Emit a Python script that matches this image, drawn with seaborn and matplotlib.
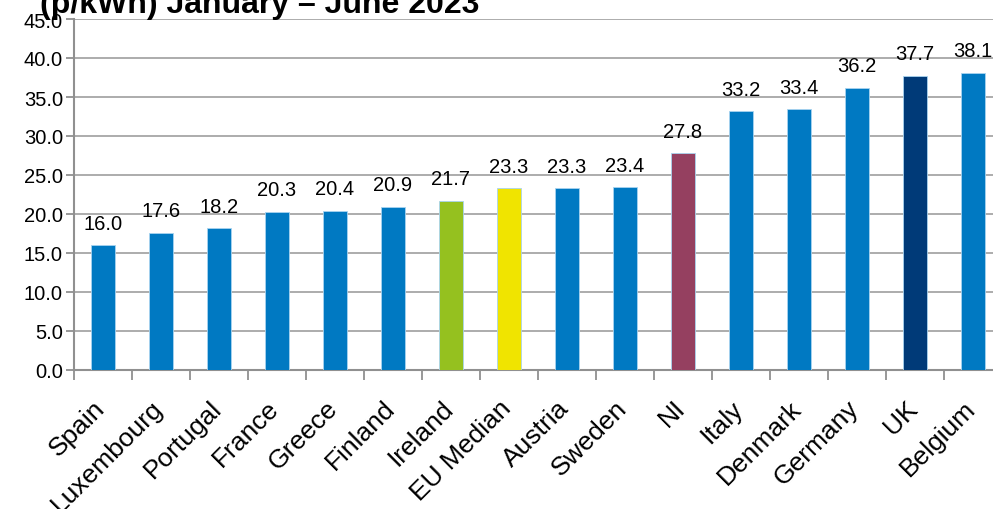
import matplotlib
matplotlib.use("Agg")
import matplotlib.pyplot as plt
import matplotlib.transforms as mtransforms
import seaborn as sns
import pandas as pd
import numpy as np
from matplotlib.ticker import FixedLocator

categories = ["Spain", "Luxembourg", "Portugal", "France", "Greece", "Finland",
              "Ireland", "EU Median", "Austria", "Sweden", "NI", "Italy",
              "Denmark", "Germany", "UK", "Belgium"]
values = [16.0, 17.6, 18.2, 20.3, 20.4, 20.9, 21.7, 23.3, 23.3, 23.4, 27.8,
          33.2, 33.4, 36.2, 37.7, 38.1]
colors = ["#0079C2"] * 6 + ["#95C11F", "#F0E400", "#0079C2", "#0079C2",
                            "#954060", "#0079C2", "#0079C2", "#0079C2",
                            "#003A78", "#0079C2"]
title = "Domestic electricity prices\n(p/kWh) January \u2013 June 2023"

sns.set_theme(style="white")
plt.rcParams["font.family"] = ["Liberation Sans", "DejaVu Sans"]

df = pd.DataFrame({"cat": categories, "val": values})

fig = plt.figure(figsize=(9.93, 5.10), dpi=100)
ax = fig.add_axes([74 / 993, 1 - 371 / 510, 928 / 993, 351 / 510])

sns.barplot(data=df, x="cat", y="val", hue="cat", palette=colors, legend=False,
            saturation=1, width=0.4, ax=ax, edgecolor="#a8d4f0",
            linewidth=0.6, zorder=3)

for i, v in enumerate(values):
    ax.annotate(f"{v:.1f}", xy=(i, v), xytext=(0, 9), textcoords="offset points",
                ha="center", va="bottom", fontsize=14.5, color="black",
                zorder=4)

ax.set_ylim(0, 45)
ax.set_xlim(-0.5, len(categories) - 0.5)
ax.set_yticks(np.arange(0, 45.1, 5))
ax.set_yticklabels([f"{t:.1f}" for t in np.arange(0, 45.1, 5)], fontsize=14.5,
                   color="black")
ax.yaxis.grid(True, color="#A6A6A6", linewidth=1.3, zorder=0)
ax.set_axisbelow(True)
ax.set_xlabel("")
ax.set_ylabel("")

ax.set_xticks(range(len(categories)))
ax.set_xticklabels(categories, rotation=45, ha="right", rotation_mode="anchor",
                   fontsize=19, color="black")
ax.tick_params(axis="x", which="major", length=0, pad=14)
shift = mtransforms.ScaledTranslation(-10 / 100, -6 / 100, fig.dpi_scale_trans)
for lab in ax.get_xticklabels():
    lab.set_transform(lab.get_transform() + shift)
ax.xaxis.set_minor_locator(FixedLocator(np.arange(-0.5, len(categories), 1)))
ax.tick_params(axis="x", which="minor", length=7, width=1.3, color="#909090",
               direction="out", bottom=True)
ax.tick_params(axis="y", length=6, width=1.3, color="#909090", left=True,
               pad=2)

for s in ["top", "right"]:
    ax.spines[s].set_visible(False)
for s in ["left", "bottom"]:
    ax.spines[s].set_color("#909090")
    ax.spines[s].set_linewidth(1.5)

fig.text(40 / 993, 1 - 13 / 510, title, fontsize=23, fontweight="bold",
         ha="left", va="baseline", linespacing=1.0, color="black")

fig.savefig("out.png", dpi=100)
